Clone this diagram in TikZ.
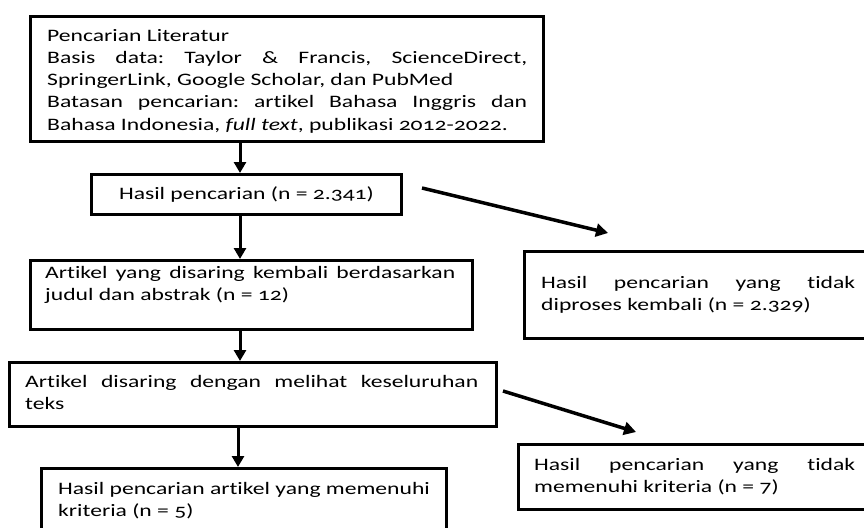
\documentclass[tikz,border=0pt]{standalone}
\usepackage{fontspec}
\setmainfont{Carlito}[Numbers=OldStyle, Ligatures=CommonOff, FakeStretch=1.35]
\usetikzlibrary{arrows.meta,calc}
\frenchspacing
\begin{document}
\begin{tikzpicture}[x=1pt,y=-1pt,
  box/.style={draw, line width=3pt, inner sep=0pt, anchor=north west},
  txt/.style={inner sep=0pt, anchor=north west, align=left, font=\fontsize{17.5}{22.2}\selectfont\frenchspacing},
  arr/.style={line width=3pt, -{Triangle[length=11pt,width=12pt]}},
  darr/.style={line width=3.5pt, -{Triangle[length=12pt,width=13pt]}}]
\clip (0,0) rectangle (864,527);
\fill[white] (0,0) rectangle (864,527);
% boxes
\node[box, minimum width=513pt, minimum height=125pt] (b1) at (29,15) {};
\node[box, minimum width=310pt, minimum height=40pt] (b2) at (90,173) {};
\node[box, minimum width=442pt, minimum height=69pt] (b3) at (29,259) {};
\node[box, minimum width=487pt, minimum height=64pt] (b4) at (8,361) {};
\node[box, minimum width=405pt, minimum height=80pt] (b5) at (40,467) {};
\node[box, minimum width=360pt, minimum height=87pt] (r1) at (523,250) {};
\node[box, minimum width=365pt, minimum height=65pt] (r2) at (517,443) {};
% texts
\node[txt] (t1) at (47,29) {Pencarian Literatur\\
\makebox[480pt][s]{Basis data: Taylor \& Francis, ScienceDirect,}\\
SpringerLink, Google Scholar, dan PubMed\\
\makebox[480pt][s]{Batasan pencarian: artikel Bahasa Inggris dan}\\
Bahasa Indonesia, \textit{full text}, publikasi 2012-2022.};
\node[txt, anchor=center] (t2) at (b2.center) {Hasil pencarian (n = 2.341)};
\node[txt] (t3) at (45,266) {\makebox[410pt][s]{Artikel yang disaring kembali berdasarkan}\\
judul dan abstrak (n = 12)};
\node[txt] (t4) at (25,375) {\makebox[453pt][s]{Artikel disaring dengan melihat keseluruhan}\\
teks};
\node[txt] (t5) at (58,482) {Hasil pencarian artikel yang memenuhi\\
kriteria (n = 5)};
\node[txt] (t6) at (541,276) {\makebox[314pt][s]{Hasil pencarian yang tidak}\\
diproses kembali (n = 2.329)};
\node[txt] (t7) at (534,458) {\makebox[321pt][s]{Hasil pencarian yang tidak}\\
memenuhi kriteria (n = 7)};
% connectors
\coordinate (ax) at (240,0);
\coordinate (bx) at (238,0);
\draw[arr] (b1.south -| ax) -- (b2.north -| ax);
\draw[arr] (b2.south -| ax) -- (b3.north -| ax);
\draw[arr] (b3.south -| ax) -- (b4.north -| ax);
\draw[arr] (b4.south -| bx) -- (b5.north -| bx);
\coordinate (d1s) at (422,188);
\coordinate (d1e) at (608,233);
\coordinate (d2s) at (503,391);
\coordinate (d2e) at (636,432);
\draw[darr] (d1s) -- (d1e);
\draw[darr] (d2s) -- (d2e);
\end{tikzpicture}
\end{document}
